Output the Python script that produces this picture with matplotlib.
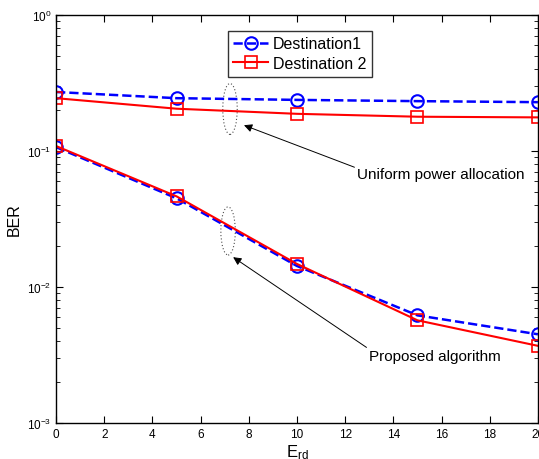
import matplotlib
matplotlib.use("Agg")
import matplotlib.pyplot as plt
from matplotlib.patches import Ellipse
from matplotlib.ticker import LogLocator, NullFormatter

plt.rcParams['font.family'] = ['Liberation Sans', 'DejaVu Sans']
plt.rcParams['mathtext.fontset'] = 'custom'
plt.rcParams['mathtext.rm'] = 'Liberation Sans'
plt.rcParams['mathtext.it'] = 'Liberation Sans:italic'

x = [0, 5, 10, 15, 20]
uni_d1 = [0.272, 0.245, 0.238, 0.233, 0.229]
uni_d2 = [0.245, 0.205, 0.188, 0.179, 0.177]
prop_d1 = [0.107, 0.045, 0.0143, 0.0062, 0.0045]
prop_d2 = [0.109, 0.0465, 0.0148, 0.0057, 0.0037]
xticks = list(range(0, 21, 2))

fig = plt.figure(figsize=(5.39, 4.6), dpi=100)
ax = fig.add_axes([0.104, 0.078, 0.894, 0.887])

ax.semilogy(x, uni_d1, '--', color='blue', lw=1.8, marker='o', ms=9, mfc='none', mew=1.5, label='Destination1')
ax.semilogy(x, uni_d2, '-', color='red', lw=1.5, marker='s', ms=8, mfc='none', mew=1.2, label='Destination 2')
ax.semilogy(x, prop_d1, '--', color='blue', lw=1.8, marker='o', ms=9, mfc='none', mew=1.5)
ax.semilogy(x, prop_d2, '-', color='red', lw=1.5, marker='s', ms=8, mfc='none', mew=1.2)

ax.set_xlim(0, 20)
ax.set_ylim(1e-3, 1)
ax.set_xticks(xticks)
ax.yaxis.set_major_locator(LogLocator(base=10, numticks=10))
ax.yaxis.set_minor_locator(LogLocator(base=10, subs=range(2, 10), numticks=20))
ax.yaxis.set_minor_formatter(NullFormatter())
ax.tick_params(which='both', direction='in', top=True, right=True, labelsize=8.5)
ax.tick_params(which='major', length=5)
ax.tick_params(which='minor', length=3)
for s in ax.spines.values():
    s.set_linewidth(1.0)

ax.set_ylabel('BER', fontsize=11.5)
ax.set_xlabel(r'E$_{\mathrm{rd}}$', fontsize=12, labelpad=2)

leg = ax.legend(loc='upper center', bbox_to_anchor=(0.506, 0.962), fontsize=11.5, frameon=True,
                fancybox=False, edgecolor='black', handlelength=2.2, borderpad=0.35, labelspacing=0.3,
                handletextpad=0.3, borderaxespad=0)
leg.get_frame().set_linewidth(1.0)

ax.add_patch(Ellipse((0.361, 0.770), 0.03, 0.125, transform=ax.transAxes, fill=False,
                     ls=(0, (1, 2)), lw=0.8, edgecolor='0.3'))
ax.add_patch(Ellipse((0.357, 0.471), 0.03, 0.118, transform=ax.transAxes, fill=False,
                     ls=(0, (1, 2)), lw=0.8, edgecolor='0.3'))

ax.annotate('Uniform power allocation', xy=(7.8, 0.155), xytext=(12.5, 0.068),
            fontsize=11, va='center', ha='left',
            arrowprops=dict(arrowstyle='-|>', color='black', lw=0.7, mutation_scale=12,
                            shrinkA=0, shrinkB=0, relpos=(0, 0.9)))
ax.annotate('Proposed algorithm', xy=(7.35, 0.0166), xytext=(13.0, 0.0031),
            fontsize=11, va='center', ha='left',
            arrowprops=dict(arrowstyle='-|>', color='black', lw=0.7, mutation_scale=12,
                            shrinkA=0, shrinkB=0, relpos=(0, 1.0)))

fig.savefig('out.png', dpi=100)
